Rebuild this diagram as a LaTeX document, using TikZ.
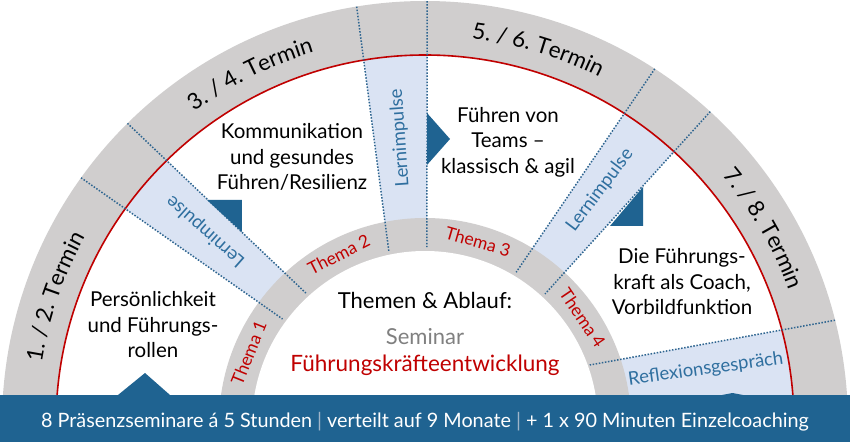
\documentclass[tikz,border=0pt]{standalone}
\usepackage{fontspec}
\setmainfont{Lato}
\usetikzlibrary{decorations.text}

\definecolor{ringgray}{HTML}{D0CECE}
\definecolor{impulsblue}{HTML}{DAE3F3}
\definecolor{barblue}{HTML}{1F6391}
\definecolor{dotblue}{HTML}{2E6590}
\definecolor{labelblue}{HTML}{2F6F9F}
\definecolor{themered}{HTML}{C00000}
\definecolor{seminargray}{HTML}{808080}
\definecolor{sepgray}{HTML}{9FB5C9}

\newcommand\terminfont{\fontsize{22.5}{26}\selectfont}

\tikzset{
  impulsline/.style={dotblue, line width=1.5pt, dash pattern=on 1.5pt off 1.6pt},
  impulsfill/.style={fill=impulsblue},
  topic/.style={align=center, font=\fontsize{20.5}{25.5}\selectfont, inner sep=0pt},
  thema/.style={themered, font=\fontsize{17.5}{19}\selectfont, inner sep=0pt},
  impuls/.style={labelblue, font=\fontsize{18.5}{20}\selectfont, inner sep=0pt},
  marker/.style={fill=barblue},
  termin/.style={decorate, decoration={text along path, text align=center, text={#1}}},
}

\begin{document}
\begin{tikzpicture}[x=1pt, y=1pt]
      \useasboundingbox (-425,-20) rectangle (425,424);
      % rings
      \begin{scope}
      \clip (-425,0) rectangle (425,424);
      \fill[ringgray] (0,0) circle (423);
      \fill[white] (0,0) circle (369);
      \begin{scope}
      \clip (0,0) circle (369);
      \fill[impulsfill] (99.3:423) -- (101.8:177) -- (89.4:177) -- (89.7:423) -- cycle;
      \fill[impulsfill] (134.7:423) -- (132.3:177) -- (143.6:177) -- (144.4:423) -- cycle;
      \fill[impulsfill] (57.1:423) -- (59:177) -- (47.3:177) -- (47.6:423) -- cycle;
      \fill[impulsfill] (14.2:423) -- (19.7:175) -- (165,0) -- (430,0) -- cycle;
      \end{scope}
      \fill[ringgray] (0,0) circle (206);
      \fill[white] (0,0) circle (173);
      \draw[themered, line width=1.6pt] (0,0) circle (369);
      \end{scope}
      % dotted borders
      \foreach \a/\b/\r in {99.3/101.8/177, 89.7/89.4/177, 134.7/132.3/177, 144.4/143.6/177,
                             57.1/59/177, 47.6/47.3/177, 14.2/19.7/175}
      \draw[impulsline] (\a:423) -- (\b:\r);
      % markers
      \fill[marker] (-307,29) -- (-255,29) -- (-280,51) -- cycle;
      \fill[marker] (-218,224) -- (-183,192) -- (-183,224) -- cycle;
      \fill[marker] (2,311) -- (2,259) -- (25,285) -- cycle;
      \fill[marker] (218,237) -- (185,198) -- (218,198) -- cycle;
      \fill[marker] (297,29) -- (318,29) -- (307.5,31) -- cycle;
      % bar
      \fill[barblue] (-425,-18) rectangle (425,29);
      \node[white, font=\fontsize{19.8}{22}\selectfont, anchor=base] (leiste) at (0,-3)
        {8 Präsenzseminare á 5 Stunden \textcolor{sepgray}{|} verteilt auf 9 Monate \textcolor{sepgray}{|} + 1 x 90 Minuten Einzelcoaching};
      % termine
      \path[termin={|\terminfont|1. / 2. Termin}] (191:388) arc[start angle=191, end angle=131, radius=388];
      \path[termin={|\terminfont|3. / 4. Termin}] (146.5:388) arc[start angle=146.5, end angle=86.5, radius=388];
      \path[termin={|\terminfont|5. / 6. Termin}] (103.2:388) arc[start angle=103.2, end angle=43.2, radius=388];
      \path[termin={|\terminfont|7. / 8. Termin}] (60:388) arc[start angle=60, end angle=0, radius=388];
      % topics
      \node[topic] (persoenlichkeit) at (-272,99) {Persönlichkeit\\und Führungs-\\rollen};
      \node[topic] (kommunikation) at (-133,267) {Kommunikation\\und gesundes\\Führen/Resilienz};
      \node[topic] (teams) at (83,282) {Führen von\\Teams –\\klassisch \& agil};
      \node[topic] (coach) at (257,142) {Die Führungs-\\kraft als Coach,\\Vorbildfunktion};
      % center
      \node[font=\fontsize{22}{24}\selectfont] (ablauf) at (0,124) {Themen \& Ablauf:};
      \node[seminargray, font=\fontsize{22}{24}\selectfont] (seminar) at (0,87) {Seminar};
      \node[themered, font=\fontsize{22.5}{24}\selectfont] (fke) at (0,59) {Führungskräfteentwicklung};
      % themen
      \node[thema, rotate=68] (thema1) at (158:190) {Thema 1};
      \node[thema, rotate=27] (thema2) at (117:190) {Thema 2};
      \node[thema, rotate=-16] (thema3) at (73.8:190) {Thema 3};
      \node[thema, rotate=-56] (thema4) at (33.9:190) {Thema 4};
      % lernimpulse
      \node[impuls, rotate=94] (impulsoben) at (95:287) {Lernimpulse};
      \node[impuls, rotate=138.5] (impulslinks) at (138.7:292) {Lernimpulse};
      \node[impuls, rotate=53] (impulsrechts) at (53.2:292) {Lernimpulse};
      \node[impuls, rotate=8] (reflexion) at (11:286) {Reflexionsgespräch};
\end{tikzpicture}
\end{document}
